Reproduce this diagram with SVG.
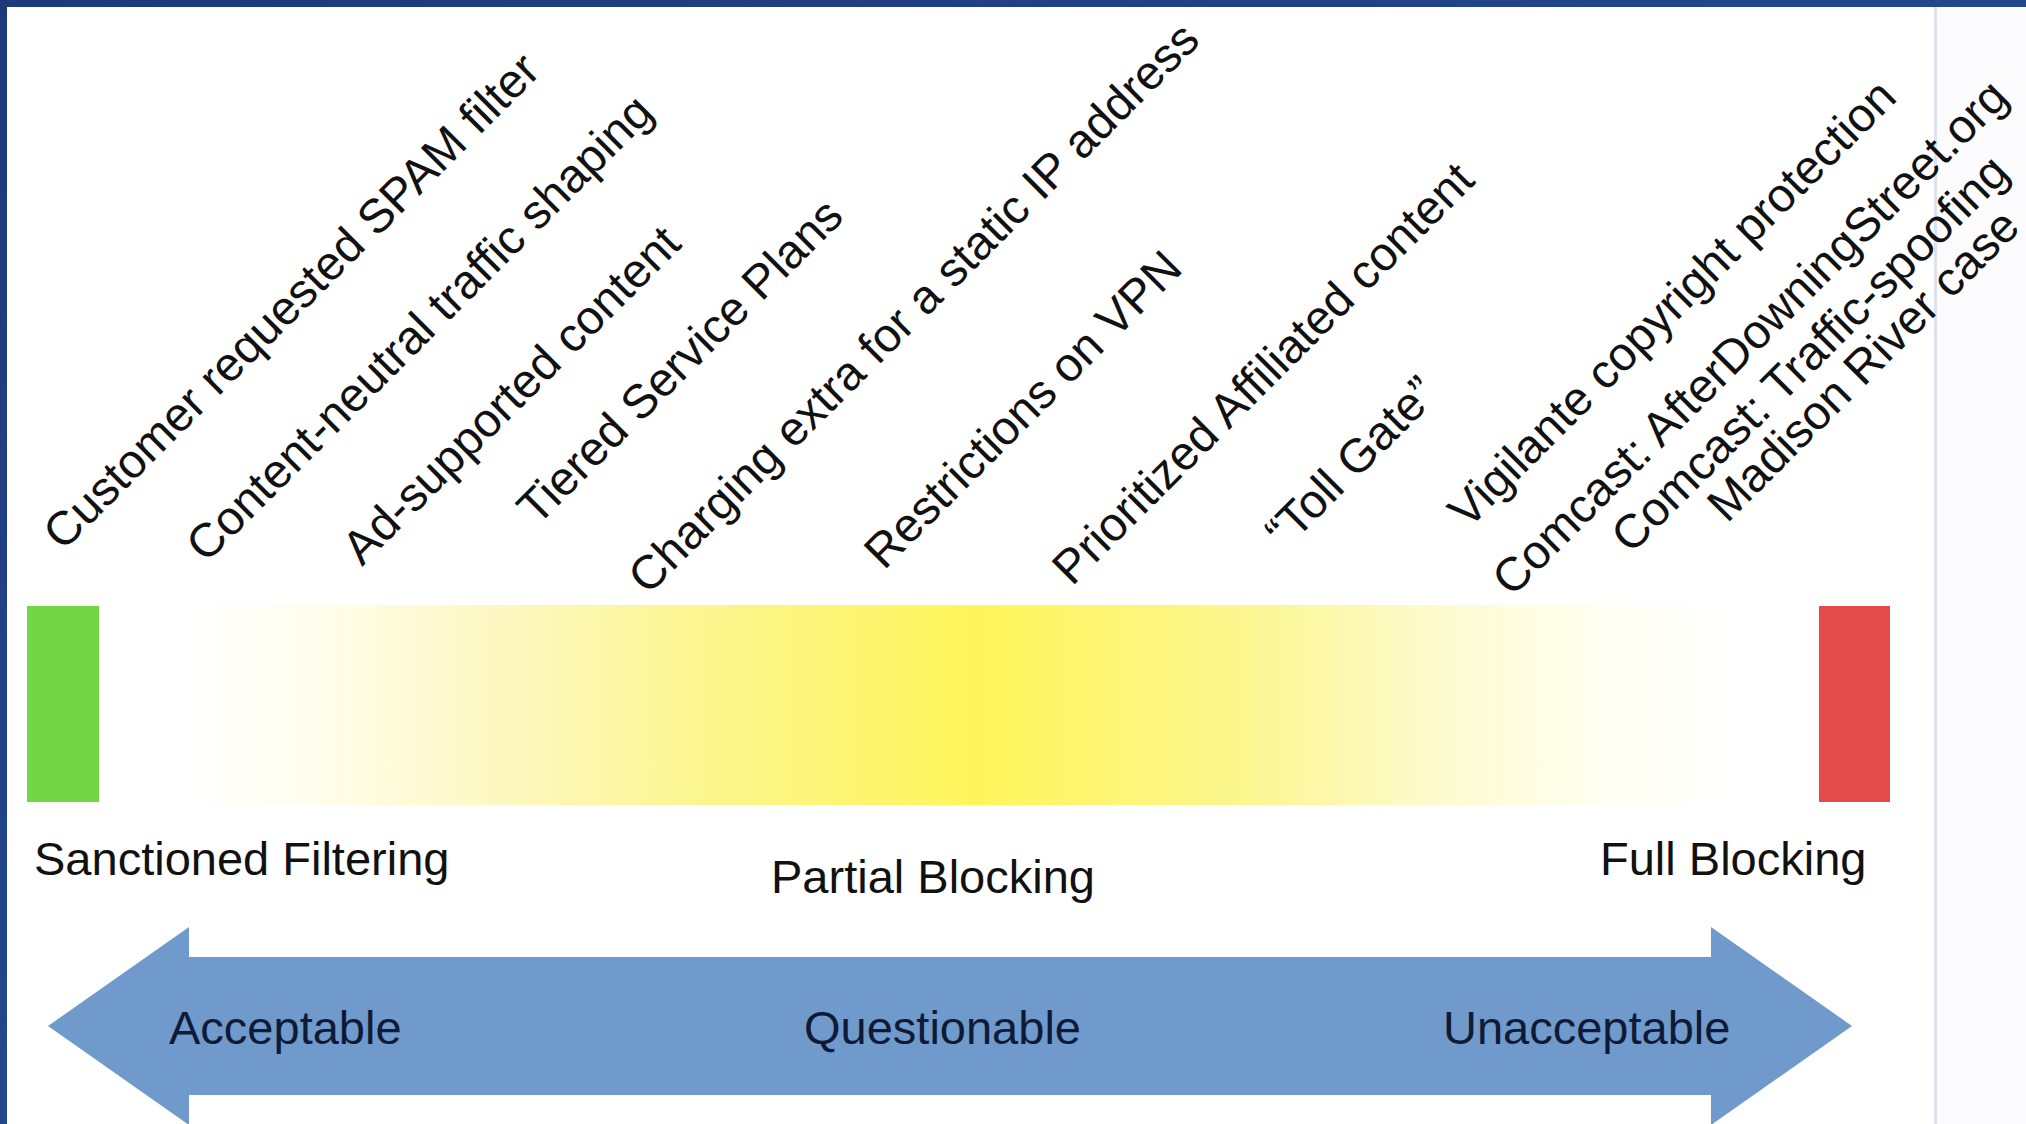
<svg xmlns="http://www.w3.org/2000/svg" width="2026" height="1124" viewBox="0 0 2026 1124">
  <defs>
    <style>
      .lbl { font-family: "Liberation Sans", Arial, sans-serif; font-size: 47px; fill: #111111; }
      .rot { font-family: "Liberation Sans", Arial, sans-serif; font-size: 47.5px; fill: #111111; }
      .arr { font-family: "Liberation Sans", Arial, sans-serif; font-size: 47px; fill: #0f1b36; }
    </style>
    <linearGradient id="heat" gradientUnits="userSpaceOnUse" x1="99" y1="0" x2="1819" y2="0">
      <stop offset="0" stop-color="#ffffff"/>
      <stop offset="0.05" stop-color="#ffffff"/>
      <stop offset="0.13" stop-color="#fffdeb"/>
      <stop offset="0.23" stop-color="#fdf8c2"/>
      <stop offset="0.36" stop-color="#fbf58c"/>
      <stop offset="0.51" stop-color="#fff55a"/>
      <stop offset="0.66" stop-color="#fbf68c"/>
      <stop offset="0.78" stop-color="#fdfbcf"/>
      <stop offset="0.88" stop-color="#fffff3"/>
      <stop offset="0.95" stop-color="#ffffff"/>
      <stop offset="1" stop-color="#ffffff"/>
    </linearGradient>
    <linearGradient id="frame" x1="0" y1="0" x2="1" y2="1">
      <stop offset="0" stop-color="#1c3a7a"/>
      <stop offset="0.5" stop-color="#24478c"/>
      <stop offset="1" stop-color="#1c3a7a"/>
    </linearGradient>
  </defs>

  <!-- background frame -->
  <rect x="0" y="0" width="2026" height="1124" fill="url(#frame)"/>
  <rect x="7" y="7" width="2019" height="1117" fill="#ffffff"/>
  <rect x="1937" y="7" width="89" height="1117" fill="#fcfcfe"/>
  <line x1="1935.5" y1="7" x2="1935.5" y2="1124" stroke="#dde2f3" stroke-width="3"/>

  <!-- scale bar -->
  <g id="scale-bar">
    <rect x="99" y="605" width="1720" height="200" fill="url(#heat)"/>
  </g>
  <g id="sanctioned">
    <rect x="27" y="606" width="72" height="196" fill="#74d545"/>
    <text class="lbl" x="34" y="875">Sanctioned Filtering</text>
  </g>
  <g id="partial">
    <text class="lbl" x="771" y="893">Partial Blocking</text>
  </g>
  <g id="full">
    <rect x="1819" y="606" width="71" height="196" fill="#e24a4b"/>
    <text class="lbl" x="1600" y="875">Full Blocking</text>
  </g>

  <!-- rotated practice labels -->
  <g id="practices">
    <g id="p1"><text class="rot" transform="translate(63 552) rotate(-45)">Customer requested SPAM filter</text></g>
    <g id="p2"><text class="rot" transform="translate(206 564) rotate(-45)">Content-neutral traffic shaping</text></g>
    <g id="p3"><text class="rot" transform="translate(362 567) rotate(-45)">Ad-supported content</text></g>
    <g id="p4"><text class="rot" transform="translate(537 527) rotate(-45)">Tiered Service Plans</text></g>
    <g id="p5"><text class="rot" transform="translate(648 596) rotate(-45)">Charging extra for a static IP address</text></g>
    <g id="p6"><text class="rot" transform="translate(884 571) rotate(-45)">Restrictions on VPN</text></g>
    <g id="p7"><text class="rot" transform="translate(1072 587) rotate(-45)">Prioritized Affiliated content</text></g>
    <g id="p8"><text class="rot" transform="translate(1285 551) rotate(-45)">“Toll Gate”</text></g>
    <g id="p9"><text class="rot" transform="translate(1468 530) rotate(-45)">Vigilante copyright protection</text></g>
    <g id="p10"><text class="rot" transform="translate(1512 598) rotate(-45)">Comcast: AfterDowningStreet.org</text></g>
    <g id="p11"><text class="rot" transform="translate(1631 555) rotate(-45)">Comcast: Traffic-spoofing</text></g>
    <g id="p12"><text class="rot" transform="translate(1727 524) rotate(-45)">Madison River case</text></g>
  </g>

  <!-- double arrow -->
  <g id="connectors">
    <g id="acceptability-arrow">
      <polygon points="48,1026 189,927 189,957 1711,957 1711,927 1852,1026 1711,1125 1711,1095 189,1095 189,1125" fill="#7099cc"/>
      <text class="arr" x="169" y="1044">Acceptable</text>
      <text class="arr" x="804" y="1044">Questionable</text>
      <text class="arr" x="1443" y="1044">Unacceptable</text>
    </g>
  </g>
</svg>
